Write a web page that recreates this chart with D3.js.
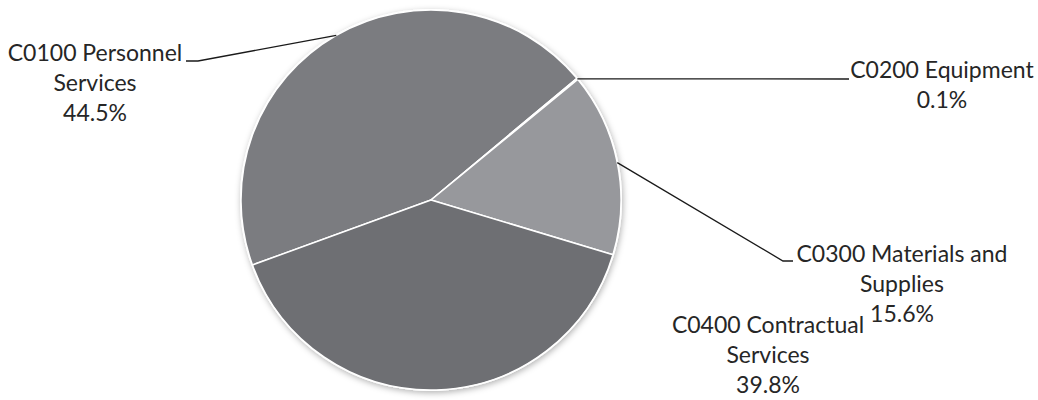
<!DOCTYPE html>
<html>
<head>
<meta charset="utf-8">
<script src="https://cdn.jsdelivr.net/npm/d3@7"></script>
<style>
  body { margin: 0; background: #fff; }
  text { font-family: Lato, "Liberation Sans", sans-serif; fill: #262626; }
</style>
</head>
<body>
<div id="chart"></div>
<script>
////////////////////////////////////////////////////////////
////////////////////////// data ////////////////////////////
////////////////////////////////////////////////////////////
var categories = ["C0100 Personnel Services", "C0200 Equipment", "C0300 Materials and Supplies", "C0400 Contractual Services"];
var shares = [44.5, 0.1, 15.6, 39.8];
var pctLabels = ["44.5%", "0.1%", "15.6%", "39.8%"];
var labelLines = [["C0100 Personnel", "Services"], ["C0200 Equipment"], ["C0300 Materials and", "Supplies"], ["C0400 Contractual", "Services"]];

////////////////////////////////////////////////////////////
///////////////////////// layout ///////////////////////////
////////////////////////////////////////////////////////////
var wdim = 1038, hdim = 400;
var cx = 431, cy = 200, radius = 190;
var sliceColors = ["#7b7c80", "#85868a", "#97989c", "#6e6f73"];
// label anchor (center x, first baseline y) and leader elbow for each slice
var labelPos = [
  {x: 95, y: 61, elbow: [[198, 61], [186, 61]]},
  {x: 942, y: 78, elbow: [[849, 79]]},
  {x: 902, y: 262, elbow: [[783, 261], [793, 261]]},
  {x: 768, y: 333, elbow: null}
];
var lineH = 30;

var svg = d3.select("#chart").append("svg")
  .attr("width", wdim)
  .attr("height", hdim);

var defs = svg.append("defs");
var f = defs.append("filter").attr("id", "shadow")
  .attr("x", "-10%").attr("y", "-10%").attr("width", "120%").attr("height", "120%");
f.append("feDropShadow")
  .attr("dx", 1).attr("dy", 2)
  .attr("stdDeviation", 3)
  .attr("flood-color", "#000")
  .attr("flood-opacity", 0.3);

var pie = d3.pie()
  .sort(null)
  .value(function(d){ return d; })
  .startAngle(-110 * Math.PI / 180)
  .endAngle(250 * Math.PI / 180);

var arcs = pie(shares);
var arc = d3.arc().innerRadius(0).outerRadius(radius);

var g = svg.append("g").attr("transform", "translate(" + cx + "," + cy + ")");

// shadow + white rim behind slices
g.append("circle")
  .attr("r", radius + 1)
  .attr("fill", "#fff")
  .attr("filter", "url(#shadow)");

g.selectAll("path.slice")
  .data(arcs)
  .enter().append("path")
  .attr("class", "slice")
  .attr("d", arc)
  .attr("fill", function(d, i){ return sliceColors[i]; })
  .attr("stroke", "#fff")
  .attr("stroke-width", 1.5)
  .attr("stroke-linejoin", "round");

// leader lines from arc point at slice middle angle
arcs.forEach(function(d, i){
  var lp = labelPos[i];
  if(!lp.elbow) return;
  var mid = (d.startAngle + d.endAngle) / 2;
  var pts = [[cx + radius * Math.sin(mid), cy - radius * Math.cos(mid)]].concat(lp.elbow);
  svg.append("path")
    .attr("d", d3.line()(pts))
    .attr("fill", "none")
    .attr("stroke", "#1a1a1a")
    .attr("stroke-width", 1.3);
});

// labels
categories.forEach(function(c, i){
  var lp = labelPos[i];
  var lines = labelLines[i].concat([pctLabels[i]]);
  var t = svg.append("text")
    .attr("text-anchor", "middle")
    .style("font-size", "23px");
  lines.forEach(function(s, j){
    t.append("tspan")
      .attr("x", lp.x)
      .attr("y", lp.y + j * lineH)
      .text(s);
  });
});
</script>
</body>
</html>
